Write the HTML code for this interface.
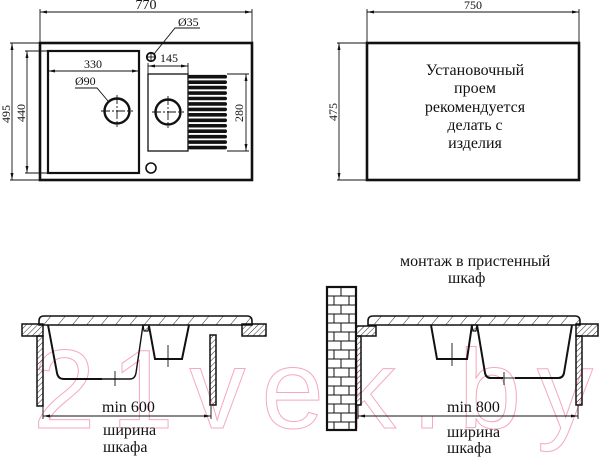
<!DOCTYPE html>
<html><head><meta charset="utf-8"><style>
html,body{margin:0;padding:0;background:#fff;}
svg{display:block;}
.t{font-family:"Liberation Serif","DejaVu Serif",serif;fill:#111;}
</style></head><body>
<svg width="600" height="458" viewBox="0 0 600 458" xmlns="http://www.w3.org/2000/svg">
<defs>
<pattern id="hr" width="11" height="11" patternUnits="userSpaceOnUse" patternTransform="rotate(40)"><line x1="0" y1="0" x2="0" y2="11" stroke="#111" stroke-width="0.9"/></pattern>
<pattern id="hc" width="4" height="4" patternUnits="userSpaceOnUse" patternTransform="rotate(45)"><line x1="0" y1="0" x2="0" y2="4" stroke="#111" stroke-width="0.9"/></pattern>
</defs>

<!-- watermark -->
<text x="33" y="428" font-size="112" textLength="560" lengthAdjust="spacing" style="fill:none;stroke:#f5a9bf;stroke-width:1;font-family:'Liberation Sans',sans-serif;">21vek.by</text>

<!-- ===== TOP LEFT ===== -->
<g fill="none" stroke="#111">
  <rect x="40" y="43" width="212" height="137" stroke-width="2.6"/>
  <rect x="48" y="51" width="91" height="122" stroke-width="2.2"/>
  <rect x="148" y="74" width="40" height="77" stroke-width="1.3"/>
  <circle cx="117" cy="111" r="12.5" stroke-width="2.4"/>
  <circle cx="168" cy="112" r="12.5" stroke-width="2.4"/>
  <circle cx="151" cy="57" r="4.2" stroke-width="1.8"/>
  <circle cx="151" cy="168" r="5" stroke-width="1.6"/>
  <g stroke-width="0.9">
    <line x1="101" y1="111" x2="133" y2="111" stroke-dasharray="9 2 2 2"/>
    <line x1="117" y1="95" x2="117" y2="127" stroke-dasharray="9 2 2 2"/>
    <line x1="152" y1="112" x2="184" y2="112" stroke-dasharray="9 2 2 2"/>
    <line x1="168" y1="96" x2="168" y2="128" stroke-dasharray="9 2 2 2"/>
    <line x1="147" y1="57" x2="155" y2="57"/>
    <line x1="151" y1="53" x2="151" y2="61"/>
    <!-- 770 -->
    <line x1="40" y1="12" x2="252" y2="12"/>
    <line x1="40" y1="9" x2="40" y2="43"/>
    <line x1="252" y1="9" x2="252" y2="43"/>
    <!-- 495 -->
    <line x1="12" y1="43" x2="12" y2="180"/>
    <line x1="10" y1="43" x2="40" y2="43"/>
    <line x1="10" y1="180" x2="40" y2="180"/>
    <!-- 440 -->
    <line x1="27" y1="51" x2="27" y2="173"/>
    <line x1="25" y1="51" x2="48" y2="51"/>
    <line x1="25" y1="173" x2="48" y2="173"/>
    <!-- 330 -->
    <line x1="48" y1="71" x2="139" y2="71"/>
    <!-- 145 -->
    <line x1="148" y1="66" x2="188" y2="66"/>
    <line x1="148" y1="63" x2="148" y2="74"/>
    <line x1="188" y1="63" x2="188" y2="74"/>
    <!-- 280 -->
    <line x1="246" y1="74" x2="246" y2="151"/>
    <line x1="227" y1="74" x2="249" y2="74"/>
    <line x1="227" y1="151" x2="249" y2="151"/>
    <!-- leaders -->
    <polyline points="154,54 175,28 200,28"/>
    <polyline points="75,88 97,88 108,101"/>
  </g>
</g>
<g fill="#111">
  <!-- ribs -->
  <rect x="188" y="74.9" width="39" height="3.6" rx="1.8"/>
  <rect x="188" y="80.35" width="39" height="3.6" rx="1.8"/>
  <rect x="188" y="85.8" width="39" height="3.6" rx="1.8"/>
  <rect x="188" y="91.25" width="39" height="3.6" rx="1.8"/>
  <rect x="188" y="96.7" width="39" height="3.6" rx="1.8"/>
  <rect x="188" y="102.15" width="39" height="3.6" rx="1.8"/>
  <rect x="188" y="107.6" width="39" height="3.6" rx="1.8"/>
  <rect x="188" y="113.05" width="39" height="3.6" rx="1.8"/>
  <rect x="188" y="118.5" width="39" height="3.6" rx="1.8"/>
  <rect x="188" y="123.95" width="39" height="3.6" rx="1.8"/>
  <rect x="188" y="129.4" width="39" height="3.6" rx="1.8"/>
  <rect x="188" y="134.85" width="39" height="3.6" rx="1.8"/>
  <rect x="188" y="140.3" width="39" height="3.6" rx="1.8"/>
  <rect x="188" y="145.75" width="39" height="3.6" rx="1.8"/>
  <!-- arrowheads -->
  <polygon points="40,12 47,10.5 47,13.5"/><polygon points="252,12 245,10.5 245,13.5"/>
  <polygon points="12,43 10.5,50 13.5,50"/><polygon points="12,180 10.5,173 13.5,173"/>
  <polygon points="27,51 25.5,58 28.5,58"/><polygon points="27,173 25.5,166 28.5,166"/>
  <polygon points="48,71 55,69.5 55,72.5"/><polygon points="139,71 132,69.5 132,72.5"/>
  <polygon points="148,66 155,64.5 155,67.5"/><polygon points="188,66 181,64.5 181,67.5"/>
  <polygon points="246,74 244.5,81 247.5,81"/><polygon points="246,151 244.5,144 247.5,144"/>
</g>
<text class="t" x="146" y="9" font-size="14" text-anchor="middle">770</text>
<text class="t" x="93" y="68" font-size="12" text-anchor="middle">330</text>
<text class="t" x="169" y="62" font-size="12" text-anchor="middle">145</text>
<text class="t" x="178" y="26" font-size="12">Ø35</text>
<text class="t" x="75" y="85" font-size="12">Ø90</text>
<text class="t" transform="translate(10,114) rotate(-90)" font-size="12" text-anchor="middle">495</text>
<text class="t" transform="translate(25,113) rotate(-90)" font-size="12" text-anchor="middle">440</text>
<text class="t" transform="translate(243,113) rotate(-90)" font-size="12" text-anchor="middle">280</text>

<!-- ===== TOP RIGHT ===== -->
<g fill="none" stroke="#111">
  <rect x="367" y="43" width="212" height="137" stroke-width="2.6"/>
  <g stroke-width="0.9">
    <line x1="367" y1="12" x2="579" y2="12"/>
    <line x1="367" y1="9" x2="367" y2="43"/>
    <line x1="579" y1="9" x2="579" y2="43"/>
    <line x1="339" y1="43" x2="339" y2="180"/>
    <line x1="337" y1="43" x2="367" y2="43"/>
    <line x1="337" y1="180" x2="367" y2="180"/>
  </g>
</g>
<g fill="#111">
  <polygon points="367,12 374,10.5 374,13.5"/><polygon points="579,12 572,10.5 572,13.5"/>
  <polygon points="339,43 337.5,50 340.5,50"/><polygon points="339,180 337.5,173 340.5,173"/>
</g>
<text class="t" x="473" y="9" font-size="12" text-anchor="middle">750</text>
<text class="t" transform="translate(337,112) rotate(-90)" font-size="12" text-anchor="middle">475</text>
<g class="t" font-size="16" text-anchor="middle">
  <text class="t" x="475" y="75" text-anchor="middle">Установочный</text>
  <text class="t" x="475" y="93" text-anchor="middle">проем</text>
  <text class="t" x="475" y="112" text-anchor="middle">рекомендуется</text>
  <text class="t" x="475" y="130" text-anchor="middle">делать с</text>
  <text class="t" x="475" y="148" text-anchor="middle">изделия</text>
</g>

<!-- ===== BOTTOM LEFT ===== -->
<g stroke="#111">
  <rect x="22" y="324" width="21" height="12" fill="url(#hc)" stroke-width="1.5"/>
  <rect x="242" y="324" width="24" height="12" fill="url(#hc)" stroke-width="1.5"/>
  <rect x="37" y="336" width="6" height="70" fill="url(#hc)" stroke-width="1.5"/>
  <rect x="210" y="335" width="6" height="70" fill="url(#hc)" stroke-width="1.5"/>
  <path d="M39,325 L39,321 Q39,316 44,316 L247,316 Q252,316 252,321 L252,325 Z" fill="url(#hr)" stroke-width="1.6"/>
  <g fill="none" stroke-width="2">
    <path d="M48,325 L57,373 Q58,379 64,379 L102,379"/>
    <path d="M102,379 L130,379 Q135,379 136,373 L143,325" stroke-width="1.4"/>
    <path d="M149,326 L155,359 L182,359 L189,325"/>
  </g>
  <polygon points="143,325 149,325 148,331 144,331" fill="url(#hc)" stroke-width="1.2"/>
  <g stroke-width="0.9" fill="none">
    <line x1="115" y1="371" x2="115" y2="386"/>
    <line x1="168" y1="345" x2="168" y2="367"/>
    <line x1="43" y1="416" x2="211" y2="416"/>
    <line x1="43" y1="406" x2="43" y2="419"/>
    <line x1="211" y1="406" x2="211" y2="419"/>
  </g>
</g>
<g fill="#111">
  <polygon points="43,416 50,414.5 50,417.5"/><polygon points="211,416 204,414.5 204,417.5"/>
</g>
<text class="t" x="102" y="412" font-size="16">min 600</text>
<text class="t" x="103" y="435" font-size="16">ширина</text>
<text class="t" x="103" y="452" font-size="16">шкафа</text>

<!-- ===== BOTTOM RIGHT ===== -->
<text class="t" x="400" y="266" font-size="16">монтаж в пристенный</text>
<text class="t" x="448" y="283" font-size="16">шкаф</text>

<!-- brick wall -->
<g stroke="#111">
  <rect x="327" y="287" width="29" height="143" fill="#fff" stroke-width="2.2"/>
  <g stroke-width="1">
    <line x1="327" y1="296" x2="356" y2="296"/>
    <line x1="327" y1="305" x2="356" y2="305"/>
    <line x1="327" y1="314" x2="356" y2="314"/>
    <line x1="327" y1="323" x2="356" y2="323"/>
    <line x1="327" y1="332" x2="356" y2="332"/>
    <line x1="327" y1="341" x2="356" y2="341"/>
    <line x1="327" y1="350" x2="356" y2="350"/>
    <line x1="327" y1="359" x2="356" y2="359"/>
    <line x1="327" y1="368" x2="356" y2="368"/>
    <line x1="327" y1="377" x2="356" y2="377"/>
    <line x1="327" y1="386" x2="356" y2="386"/>
    <line x1="327" y1="395" x2="356" y2="395"/>
    <line x1="327" y1="404" x2="356" y2="404"/>
    <line x1="327" y1="413" x2="356" y2="413"/>
    <line x1="327" y1="422" x2="356" y2="422"/>
    <!-- joints -->
    <line x1="341" y1="287" x2="341" y2="296"/>
    <line x1="334" y1="296" x2="334" y2="305"/><line x1="349" y1="296" x2="349" y2="305"/>
    <line x1="341" y1="305" x2="341" y2="314"/>
    <line x1="334" y1="314" x2="334" y2="323"/><line x1="349" y1="314" x2="349" y2="323"/>
    <line x1="341" y1="323" x2="341" y2="332"/>
    <line x1="334" y1="332" x2="334" y2="341"/><line x1="349" y1="332" x2="349" y2="341"/>
    <line x1="341" y1="341" x2="341" y2="350"/>
    <line x1="334" y1="350" x2="334" y2="359"/><line x1="349" y1="350" x2="349" y2="359"/>
    <line x1="341" y1="359" x2="341" y2="368"/>
    <line x1="334" y1="368" x2="334" y2="377"/><line x1="349" y1="368" x2="349" y2="377"/>
    <line x1="341" y1="377" x2="341" y2="386"/>
    <line x1="334" y1="386" x2="334" y2="395"/><line x1="349" y1="386" x2="349" y2="395"/>
    <line x1="341" y1="395" x2="341" y2="404"/>
    <line x1="334" y1="404" x2="334" y2="413"/><line x1="349" y1="404" x2="349" y2="413"/>
    <line x1="341" y1="413" x2="341" y2="422"/>
    <line x1="334" y1="422" x2="334" y2="430"/><line x1="349" y1="422" x2="349" y2="430"/>
  </g>
</g>

<g stroke="#111">
  <rect x="356" y="326" width="20" height="10" fill="url(#hc)" stroke-width="1.5"/>
  <rect x="576" y="324" width="22" height="12" fill="url(#hc)" stroke-width="1.5"/>
  <rect x="356" y="336" width="5" height="69" fill="url(#hc)" stroke-width="1.5"/>
  <rect x="576" y="336" width="6" height="69" fill="url(#hc)" stroke-width="1.5"/>
  <path d="M368,325 L368,321 Q368,316 373,316 L575,316 Q580,316 580,321 L580,325 Z" fill="url(#hr)" stroke-width="1.6"/>
  <g fill="none" stroke-width="2">
    <path d="M431,325 L437,359 L467,359 L472,325"/>
    <path d="M477,325 L485,373 Q486,378 491,378 L503,378"/>
    <path d="M515,378 L558,378 Q563,378 564,373 L572,325"/>
  </g>
  <line x1="503" y1="378" x2="515" y2="378" stroke-width="0.9"/>
  <polygon points="472,325 477,325 476,331 473,331" fill="url(#hc)" stroke-width="1.2"/>
  <g stroke-width="0.9" fill="none">
    <line x1="452" y1="343" x2="452" y2="366"/>
    <line x1="504" y1="372" x2="504" y2="385"/>
    <line x1="358" y1="416" x2="578" y2="416"/>
    <line x1="358" y1="405" x2="358" y2="419"/>
    <line x1="578" y1="405" x2="578" y2="419"/>
  </g>
</g>
<g fill="#111">
  <polygon points="358,416 365,414.5 365,417.5"/><polygon points="578,416 571,414.5 571,417.5"/>
</g>
<text class="t" x="447" y="412" font-size="16">min 800</text>
<text class="t" x="447" y="437" font-size="16">ширина</text>
<text class="t" x="447" y="453" font-size="16">шкафа</text>
</svg>
</body></html>
